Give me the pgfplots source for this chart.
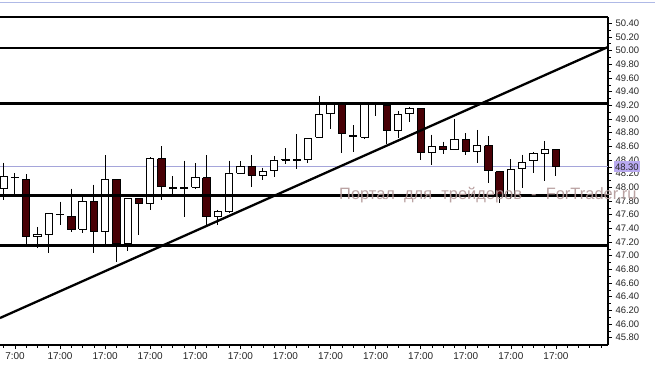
\documentclass[border=0pt]{standalone}
\usepackage{fontspec}
\setmainfont{Liberation Sans}
\usepackage{pgfplots}
\usepackage{pgfplotstable}
\pgfplotsset{compat=1.18}
\definecolor{candledark}{RGB}{72,0,5}
\definecolor{pricecol}{RGB}{165,165,218}
\definecolor{pricebox}{RGB}{185,170,240}
\definecolor{wmark}{RGB}{178,152,152}
\definecolor{framecol}{RGB}{175,185,230}

\pgfplotstableread{
x o h l c
0 47.99 48.36 47.81 48.16
1 48.14 48.21 47.89 48.15
2 48.12 48.19 47.16 47.28
3 47.28 47.42 47.11 47.31
4 47.31 47.62 47.04 47.62
5 47.60 47.79 47.45 47.61
6 47.58 47.98 47.35 47.39
7 47.39 47.86 47.33 47.79
8 47.79 48.04 47.04 47.36
9 47.36 48.47 47.16 48.12
10 48.12 48.12 46.91 47.18
11 47.18 47.84 47.07 47.84
12 47.84 47.84 47.30 47.76
13 47.76 48.44 47.67 48.42
14 48.42 48.60 47.82 48.02
15 47.99 48.16 47.89 48.00
16 48.00 48.39 47.56 47.99
17 48.00 48.35 47.98 48.14
18 48.14 48.47 47.45 47.58
19 47.58 47.67 47.45 47.64
20 47.64 48.39 47.63 48.21
21 48.21 48.38 48.21 48.31
22 48.31 48.47 48.00 48.18
23 48.17 48.29 48.10 48.23
24 48.24 48.46 48.15 48.40
25 48.40 48.57 48.34 48.41
26 48.41 48.78 48.27 48.40
27 48.41 48.71 48.35 48.71
28 48.73 49.34 48.73 49.07
29 49.08 49.24 48.85 49.22
30 49.22 49.25 48.50 48.79
31 48.75 48.91 48.52 48.76
32 48.73 49.25 48.71 49.22
33 49.21 49.25 49.04 49.22
34 49.20 49.23 48.63 48.83
35 48.83 49.11 48.72 49.07
36 49.08 49.18 48.95 49.16
37 49.15 49.16 48.40 48.51
38 48.51 48.77 48.33 48.60
39 48.60 48.67 48.49 48.56
40 48.55 49.00 48.55 48.70
41 48.70 48.79 48.48 48.52
42 48.52 48.84 48.35 48.61
43 48.61 48.75 48.06 48.24
44 48.23 48.24 47.77 47.86
45 47.87 48.41 47.83 48.26
46 48.28 48.48 47.99 48.37
47 48.39 48.52 48.21 48.50
48 48.50 48.68 48.09 48.55
49 48.55 48.55 48.17 48.30
}\candles

\begin{document}
\begin{tikzpicture}[x=1bp,y=1bp]
\useasboundingbox (0,-22) rectangle (655,345);
\draw[framecol, line width=1bp] (0,342) -- (655,342);
\begin{axis}[
  at={(0,0)}, anchor=south west,
  scale only axis, width=608bp, height=328bp,
  xmin=-0.328, xmax=53.62,
  ymin=45.693, ymax=50.492,
  axis x line*=box, axis y line*=right,
  xtick pos=bottom,
  axis line style={black, line width=1.3bp},
  tick align=outside,
  major tick length=4bp, minor tick length=2.5bp,
  tick style={black, line width=0.6bp},
  xtick={1,5,...,49},
  xticklabels={7:00,17:00,17:00,17:00,17:00,17:00,17:00,17:00,17:00,17:00,17:00,17:00,17:00},
  minor xtick={0,...,53},
  ytick={45.8,46.0,46.2,46.4,46.6,46.8,47.0,47.2,47.4,47.6,47.8,48.0,48.2,48.4,48.6,48.8,49.0,49.2,49.4,49.6,49.8,50.0,50.2,50.4},
  minor y tick num=1,
  /pgf/number format/assume math mode=true,
  y tick label style={/pgf/number format/fixed, /pgf/number format/fixed zerofill, /pgf/number format/precision=2, font=\fontsize{9.5}{10}\selectfont, text=black!85},
  x tick label style={font=\fontsize{10}{11}\selectfont, text=black!85},
  extra y ticks={48.3},
  extra y tick labels={48.30},
  extra y tick style={y tick label style={fill=pricebox, inner xsep=0.8bp, inner ysep=2bp, xshift=2bp}},
  clip=true,
]
% current price line
\addplot[pricecol, line width=0.9bp] coordinates {(-0.328,48.3) (53.62,48.3)};
% candles
\pgfplotsinvokeforeach{0,...,49}{%
  \pgfplotstablegetelem{#1}{x}\of\candles \let\cx\pgfplotsretval
  \pgfplotstablegetelem{#1}{o}\of\candles \let\co\pgfplotsretval
  \pgfplotstablegetelem{#1}{h}\of\candles \let\ch\pgfplotsretval
  \pgfplotstablegetelem{#1}{l}\of\candles \let\cl\pgfplotsretval
  \pgfplotstablegetelem{#1}{c}\of\candles \let\cc\pgfplotsretval
  \pgfmathsetmacro\xl{\cx-0.325}%
  \pgfmathsetmacro\xr{\cx+0.325}%
  \pgfmathtruncatemacro\isup{\cc>=\co ? 1 : 0}%
  \ifnum\isup=1 \def\bfill{white}\else\def\bfill{candledark}\fi
  \edef\temp{%
    \noexpand\addplot[black, line width=1bp] coordinates {(\cx,\ch) (\cx,\cl)};
    \noexpand\addplot[draw=black, fill=\bfill, line width=0.9bp, line join=miter] coordinates {(\xl,\co) (\xr,\co) (\xr,\cc) (\xl,\cc) (\xl,\co)};
  }%
  \temp
}
% support / resistance levels
\addplot[black, line width=2.7bp] coordinates {(-0.328,50.04) (53.62,50.04)};
\addplot[black, line width=2.7bp] coordinates {(-0.328,49.23) (53.62,49.23)};
\addplot[black, line width=2.7bp] coordinates {(-0.328,47.878) (53.62,47.878)};
\addplot[black, line width=2.7bp] coordinates {(-0.328,47.152) (53.62,47.152)};
% trend line
\addplot[black, line width=2.3bp] coordinates {(-0.328,46.088) (53.62,50.053)};
\coordinate (wm) at (axis cs:29.75,47.815);
\end{axis}
\node[anchor=base west, inner sep=0pt, text=wmark, opacity=0.9, font=\fontsize{16.5}{18}\selectfont] at (wm) {Портал\ \ для\ \ трейдеров\ \ -\ \ ForTrader.ru};
\end{tikzpicture}
\end{document}
